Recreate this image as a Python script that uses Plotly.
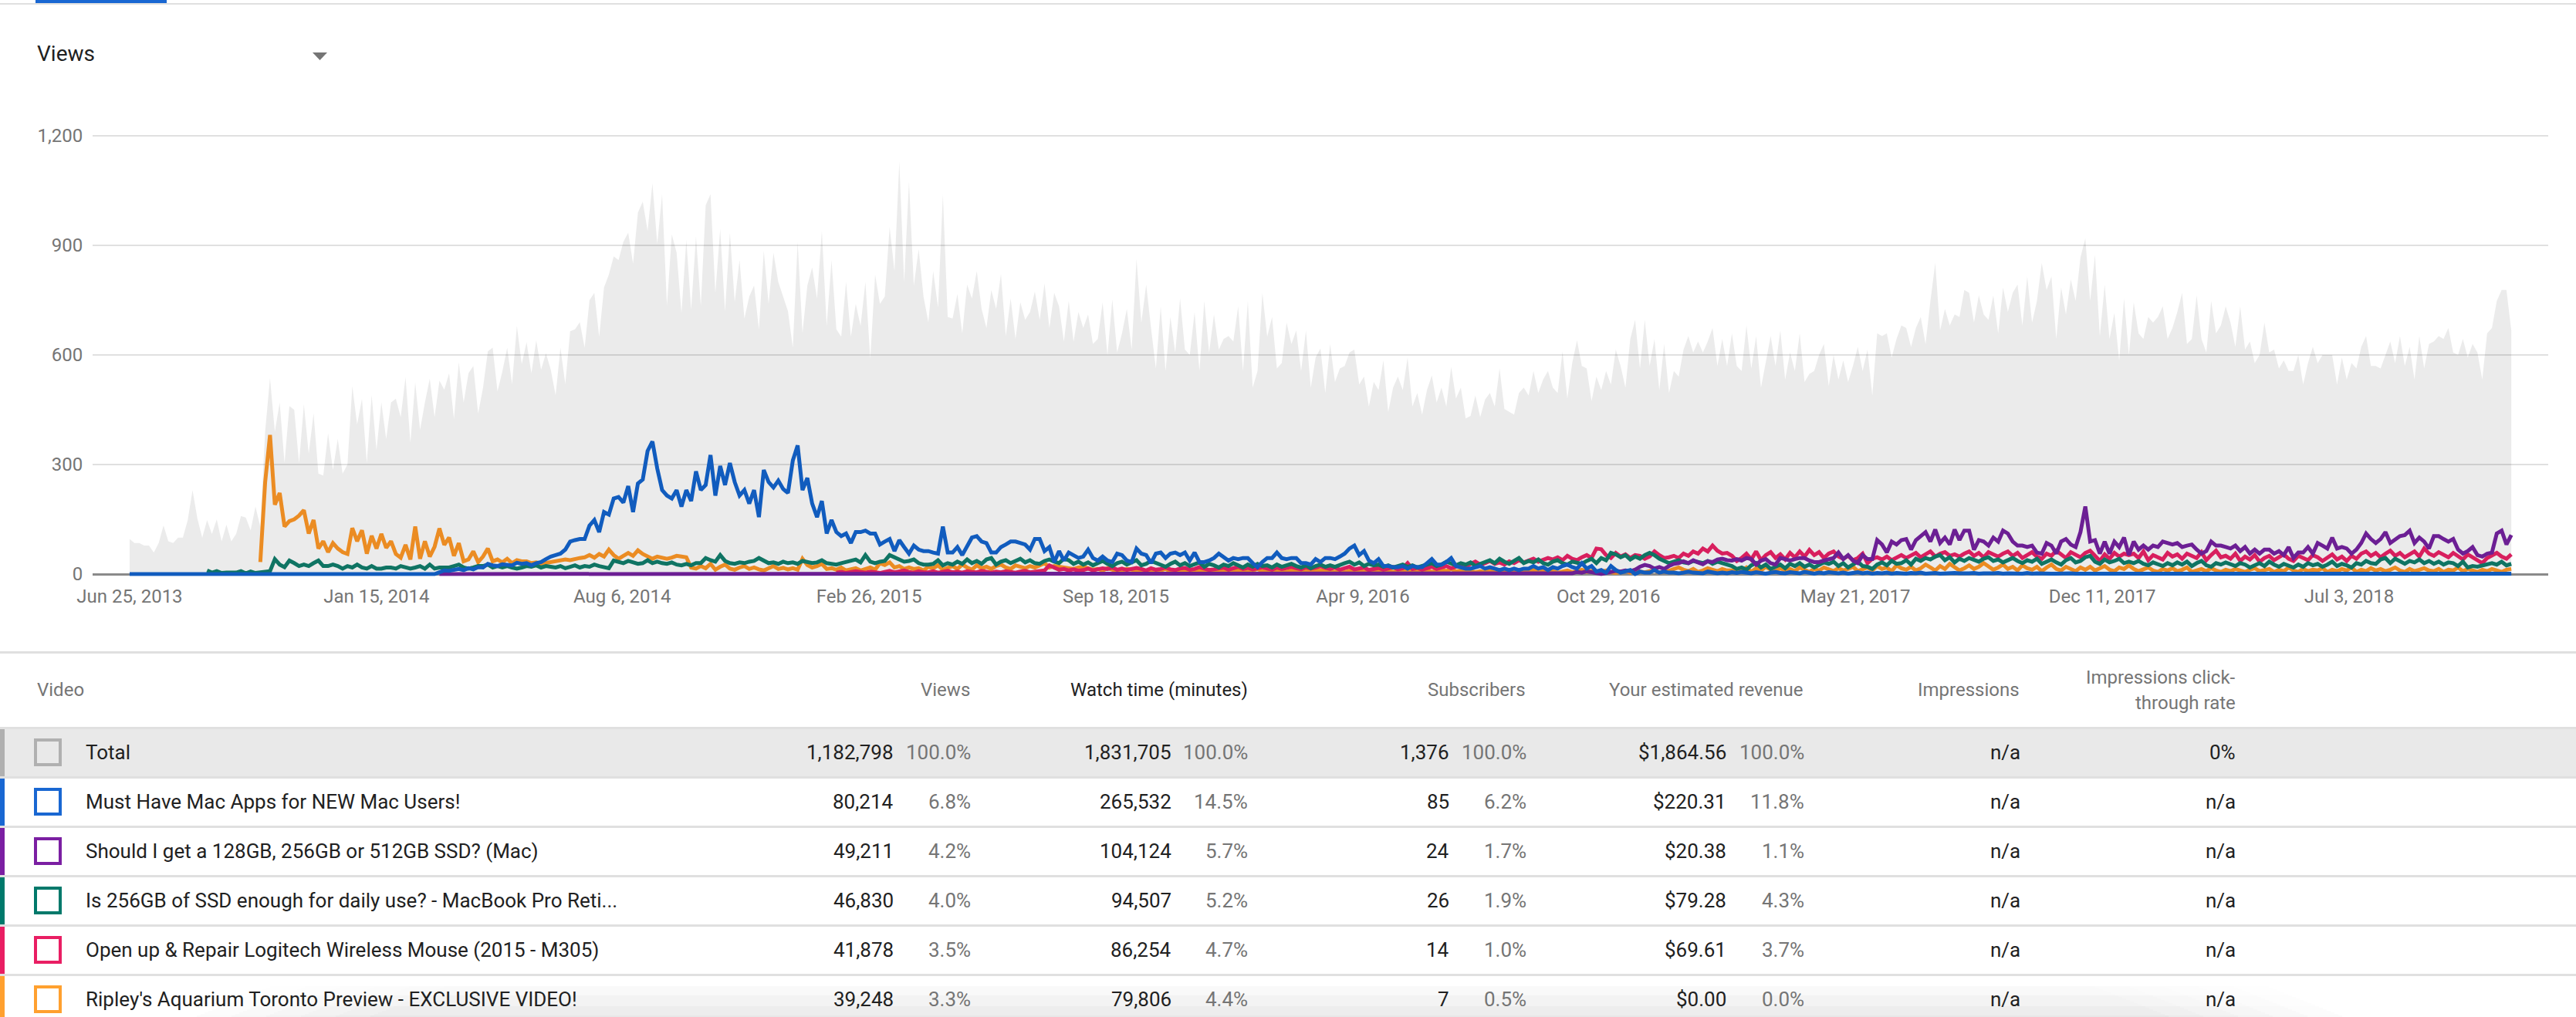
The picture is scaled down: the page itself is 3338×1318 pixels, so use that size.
import pandas as pd
import plotly.graph_objects as go

W = 3338
H = 1318

# one value every 4 days
start_date = "2013-06-25"
step = "4D"

total_views = [
    96, 85, 85, 78, 78, 59, 85, 133, 90, 85,
    100, 100, 148, 230, 152, 100, 148, 110, 150, 90,
    135, 90, 110, 159, 155, 120, 185, 130, 392, 537,
    390, 470, 304, 460, 450, 304, 465, 330, 440, 275,
    270, 385, 285, 370, 275, 300, 515, 410, 480, 304,
    490, 340, 470, 370, 470, 480, 430, 540, 360, 525,
    395, 470, 535, 430, 530, 505, 550, 425, 580, 470,
    550, 570, 440, 510, 610, 620, 500, 555, 620, 520,
    680, 575,
    635, 550, 640, 560, 605, 560, 490, 620, 520, 665,
    670, 690, 620, 750, 770, 650, 785, 820, 870, 860,
    910, 935, 850, 990, 1020, 940, 1070, 905, 1040, 735,
    930, 880, 715, 915, 725, 925, 735, 1010, 1040, 770,
    945, 720, 935, 745, 860, 700, 760, 790, 670, 885,
    740, 880, 800, 760, 720, 620, 910, 660, 790, 840,
    755, 940, 680, 860, 670, 650, 800, 650, 740, 680,
    800, 590, 820, 740, 760, 950, 830, 1130, 800, 1075,
    790, 890, 760,
    690, 830, 730, 1040, 704, 700, 767, 659, 793, 755,
    830, 726, 674, 778, 726, 822, 652, 755, 644, 744,
    696, 718, 774, 696, 796, 674, 770, 733, 637, 748,
    637, 718, 674, 711, 630, 644, 744, 600, 752, 607,
    659, 726, 615, 863, 689, 793, 674, 563, 733, 556,
    704, 607, 755, 615, 600, 718, 556, 748, 607, 711,
    615, 644, 652, 637, 733, 556, 748, 511, 556, 770,
    650, 704, 563, 578, 689, 630, 667, 556, 667, 511,
    593, 618, 496,
    630, 526, 563, 570, 607, 615, 519, 541, 459, 526,
    504, 585, 444, 511, 541, 504, 593, 459, 496, 437,
    504, 544, 470, 511, 459, 567, 481, 511, 426, 433,
    489, 430, 478, 496, 459, 563, 452, 444, 437, 496,
    511, 489, 556, 496, 533, 556, 511, 496, 610, 481,
    578, 640, 570, 563, 474, 541, 504, 556, 519, 615,
    570, 511, 644, 696, 563, 696, 570, 644, 504, 630,
    496, 556, 541, 615, 652, 607, 637, 607, 637, 674,
    570, 644, 570,
    659, 570, 556, 681, 563, 652, 510, 578, 652, 570,
    667, 533, 607, 556, 659, 526, 548, 556, 600, 630,
    515, 600, 533, 585, 526, 570, 622, 556, 615, 489,
    659, 652, 659, 593, 644, 681, 674, 622, 674, 704,
    630, 748, 852, 667, 726, 681, 711, 704, 778, 770,
    689, 763, 711, 696, 763, 659, 785, 718, 770, 793,
    681, 815, 689, 748, 852, 778, 815, 644, 785, 711,
    807, 748, 867, 919, 748, 874, 652, 793, 644, 715,
    585, 755, 600,
    744, 659, 644, 704, 689, 704, 733, 644, 674, 718,
    770, 630, 644, 763, 644, 607, 748, 659, 681, 733,
    689, 622, 733, 615, 637, 578, 600, 689, 607, 615,
    563, 585, 556, 556, 600, 519, 578, 622, 578, 600,
    600, 600, 519, 593, 533, 578, 563, 622, 652, 570,
    570, 563, 600, 637, 578, 652, 570, 622, 533, 652,
    563, 630, 637, 652, 644, 674, 607, 600, 644, 593,
    630, 607, 533, 659, 674, 748, 778, 778, 667,
]

# series start at these positions of the 4-day grid, zero before that
orange_start = 27
orange = [
    33, 252, 381, 190, 222, 130, 145, 150, 160, 175,
    111, 148, 70, 90, 60, 85, 70, 60, 55, 126,
    90, 120, 56, 105, 70, 110, 72, 90, 55, 45,
    80, 40, 130, 42, 90, 48, 75, 125, 80, 100,
    50, 85, 35, 40, 62, 33, 48, 70, 35, 40,
    32, 42, 30, 38, 35,
    35, 30, 32, 28, 30, 33, 35, 36, 40, 38,
    42, 44, 46, 52, 45, 55, 48, 67, 52, 42,
    50, 58, 50, 65, 55, 48, 42, 48, 46, 42,
    45, 50, 48, 46, 18, 15, 22, 16, 28, 12,
    20, 26, 15, 12, 18, 22, 14, 18, 13, 10,
    16, 22, 14, 17, 13, 16, 12, 42, 25, 18,
    22, 28, 14, 16, 12, 18, 10, 14, 16, 10,
    14, 18, 12, 30, 25, 32, 18, 22, 14, 18,
    14, 16, 10,
    20, 16, 24, 12, 18, 22, 14, 26, 18, 12,
    24, 16, 20, 14, 22, 26, 18, 14, 24, 20,
    16, 22, 18, 24, 30, 18, 22, 20, 18, 16,
    14, 18, 20, 16, 12, 14, 10, 16, 12, 8,
    10, 14, 12, 8, 10, 6, 12, 8, 10, 14,
    8, 6, 10, 12, 8, 6, 10, 8, 12, 6,
    10, 8, 6, 10, 12, 8, 6, 10, 14, 8,
    6, 10, 8, 12, 6, 10, 8, 6, 10, 8,
    12, 10, 8,
    8, 6, 10, 5, 9, 7, 11, 6, 8, 5,
    9, 7, 10, 6, 8, 12, 7, 9, 5, 8,
    10, 6, 9, 12, 8, 14, 7, 10, 6, 9,
    5, 8, 6, 10, 4, 7, 9, 5, 8, 6,
    10, 7, 12, 5, 9, 6, 8, 4, 7, 10,
    5, 8, 12, 6, 9, 4, 7, 10, 5, 3,
    6, 9, 4, 12, 7, 5, 8, 10, 4, 6,
    9, 14, 18, 12, 8, 14, 6, 10, 16, 12,
    8, 14, 10,
    10, 14, 8, 18, 6, 16, 10, 20, 12, 8,
    16, 10, 14, 8, 18, 12, 6, 14, 10, 18,
    12, 8, 16, 10, 14, 20, 8, 12, 18, 10,
    22, 14, 18, 8, 24, 16, 12, 20, 10, 16,
    26, 18, 10, 22, 14, 28, 18, 10, 16, 24,
    14, 20, 30, 22, 12, 18, 26, 14, 20, 10,
    24, 16, 12, 20, 8, 18, 26, 14, 10, 20,
    14, 8, 18, 12, 20, 10, 16, 22, 12, 8,
    18, 14, 24,
    14, 8, 12, 18, 10, 6, 14, 10, 16, 8,
    12, 18, 6, 10, 14, 8, 16, 10, 6, 12,
    8, 14, 10, 6, 12, 16, 8, 10, 14, 6,
    12, 8, 18, 10, 6, 14, 8, 12, 10, 16,
    6, 12, 8, 14, 10, 18, 6, 12, 8, 16,
    10, 14, 8, 12, 18, 10, 6, 14, 8, 12,
    16, 10, 8, 14, 6, 12, 10, 18, 8, 14,
    10, 6, 12, 8, 14, 10, 6, 12, 14,
]

pink_start = 146
pink = [
    4, 6, 3, 5, 8, 6, 4, 7, 5, 3,
    6, 9, 5, 7, 10, 6, 4, 8, 5,
    5, 8, 4, 6, 9, 5, 7, 4, 8, 6,
    5, 9, 6, 4, 7, 5, 8, 6, 4, 7,
    9, 5, 6, 8, 10, 24, 18, 12, 14, 10,
    13, 9, 11, 15, 10, 12, 16, 14, 18, 12,
    15, 11, 13, 17, 14, 10, 16, 12, 14, 18,
    13, 11, 15, 17, 12, 14, 19, 15, 11, 13,
    16, 18, 12, 15, 20, 14, 17, 13, 16, 19,
    15, 12, 18, 14, 17, 20, 16, 13, 19, 15,
    18, 22, 17,
    14, 18, 12, 16, 20, 13, 15, 18, 11, 14,
    17, 12, 15, 19, 13, 16, 30, 14, 17, 12,
    16, 20, 14, 18, 22, 16, 20, 24, 18, 28,
    34, 26, 30, 36, 28, 32, 26, 35, 30, 38,
    32, 36, 42, 34, 38, 44, 40, 46, 38, 50,
    42, 38, 46, 52, 44, 70, 68, 52, 44, 58,
    48, 54, 44, 52, 50, 42, 48, 62, 52, 44,
    46, 50, 44, 56, 50, 62, 56, 70, 62, 78,
    64, 56, 58,
    50, 36, 44, 56, 40, 62, 38, 52, 60, 44,
    54, 40, 58, 46, 62, 48, 66, 52, 60, 44,
    56, 62, 48, 42, 50, 38, 44, 56, 30, 42,
    46, 40, 48, 38, 46, 52, 44, 50, 58, 46,
    54, 62, 48, 56, 60, 50, 54, 48, 56, 62,
    50, 58, 46, 60, 54, 48, 56, 62, 50, 58,
    44, 52, 60, 48, 42, 56, 50, 64, 54, 44,
    60, 52, 46, 58, 64, 50, 36, 54, 42, 58,
    48, 56, 52,
    56, 44, 62, 38, 52, 46, 40, 58, 48, 54,
    42, 56, 50, 44, 60, 38, 52, 64, 46, 50,
    42, 56, 36, 48, 40, 52, 34, 44, 50, 38,
    46, 54, 42, 36, 50, 44, 38, 52, 46, 36,
    44, 54, 40, 48, 36, 50, 42, 56, 62, 50,
    58, 46, 56, 64, 50, 58, 46, 54, 62, 48,
    70, 56, 50, 60, 52, 46, 58, 50, 40, 54,
    46, 38, 30, 44, 52, 58, 48, 42, 54,
]

green_start = 16
green = [
    10, 4, 8, 3, 4, 5, 4, 8, 2, 7,
    3, 5, 6, 8, 41, 26, 19, 37, 30, 22,
    26, 22, 30, 37, 22, 22, 26, 22, 15, 22,
    18, 26, 18, 15, 22, 15, 15, 18, 18, 15,
    22, 18, 15, 18, 22, 15, 26, 15, 18, 18,
    18, 22, 26, 18, 15, 18, 22, 22, 26, 18,
    22, 18, 22, 18, 15, 18,
    22, 20, 24, 18, 22, 20, 18, 22, 16, 20,
    24, 18, 22, 20, 26, 22, 20, 16, 37, 34,
    30, 36, 33, 28, 30, 38, 30, 34, 30, 28,
    32, 26, 24, 28, 24, 30, 30, 44, 38, 34,
    52, 36, 30, 28, 32, 30, 34, 36, 44, 38,
    30, 32, 28, 34, 30, 32, 28, 36, 34, 30,
    32, 38, 30, 28, 26, 30, 34, 36, 40, 32,
    52, 34, 30, 34, 36, 52, 46, 38, 34, 36,
    40, 30, 26,
    26, 28, 38, 24, 30, 26, 34, 28, 40, 30,
    36, 28, 40, 44, 26, 34, 38, 30, 36, 42,
    32, 38, 30, 28, 36, 40, 34, 30, 42, 38,
    28, 34, 26, 32, 24, 30, 36, 28, 22, 30,
    34, 26, 32, 38, 24, 28, 36, 30, 26, 20,
    28, 34, 24, 30, 22, 26, 32, 20, 28, 24,
    18, 26, 22, 30, 24, 18, 26, 20, 28, 22,
    24, 18, 26, 20, 24, 28, 22, 18, 24, 16,
    22, 26, 20,
    24, 20, 26, 30, 34, 26, 32, 22, 28, 24,
    26, 20, 24, 18, 22, 26, 20, 24, 18, 22,
    26, 30, 22, 26, 34, 28, 24, 30, 26, 32,
    22, 28, 34, 38, 30, 42, 34, 28, 36, 44,
    30, 36, 32, 40, 30, 26, 34, 38, 30, 26,
    34, 32, 28, 36, 42, 30, 44, 38, 58, 54,
    46, 52, 40, 48, 42, 52, 58, 52, 42, 36,
    30, 34, 38, 32, 30, 36, 34, 30, 36, 28,
    34, 30, 26,
    22, 14, 18, 12, 24, 30, 18, 26, 14, 20,
    26, 16, 28, 22, 30, 20, 26, 18, 24, 32,
    28, 34, 22, 30, 18, 26, 34, 22, 20, 14,
    26, 32, 24, 36, 28, 30, 38, 26, 42, 36,
    44, 40, 48, 52, 38, 46, 32, 42, 36, 44,
    40, 34, 42, 46, 36, 40, 32, 38, 44, 36,
    30, 38, 34, 42, 28, 34, 40, 32, 26, 38,
    44, 32, 36, 46, 50, 34, 28, 40, 32, 36,
    42, 30, 34,
    30, 36, 28, 24, 32, 26, 22, 30, 24, 32,
    26, 34, 22, 30, 36, 24, 20, 30, 26, 32,
    28, 22, 30, 26, 18, 24, 30, 22, 34, 26,
    20, 28, 24, 18, 26, 20, 30, 24, 28, 20,
    26, 34, 22, 28, 24, 18, 30, 26, 36, 30,
    28, 40, 44, 30, 42, 34, 28, 36, 32, 40,
    30, 36, 28, 34, 26, 32, 30, 22, 34, 18,
    22, 20, 24, 28, 30, 26, 34, 24, 28,
]

purple_start = 298
purple = [
    2, 6, 4, 8, 5, 2, 0, 3, 6, 9,
    7, 10, 8, 12, 20, 25, 22, 15, 19, 14,
    22, 28, 30, 35, 30, 38, 32, 27, 35, 33,
    40, 42, 38,
    37, 41, 37, 44, 41, 26, 37, 41, 30, 26,
    44, 41, 37, 41, 44, 44, 37, 33, 33, 37,
    41, 44, 59, 41, 52, 37, 30, 52, 41, 41,
    93, 81, 59, 89, 81, 93, 96, 67, 93, 104,
    115, 89, 122, 85, 100, 81, 122, 93, 119, 119,
    67, 93, 89, 78, 100, 89, 119, 111, 89, 78,
    78, 74, 78, 59, 56, 85, 78, 56, 89, 96,
    81, 74, 115, 185, 89, 93, 56, 89, 56, 89,
    74, 100, 52,
    89, 67, 78, 67, 78, 74, 89, 85, 81, 85,
    74, 78, 81, 67, 56, 63, 89, 78, 78, 74,
    70, 78, 63, 74, 56, 67, 56, 67, 67, 56,
    63, 52, 74, 44, 59, 59, 74, 56, 85, 78,
    70, 100, 70, 74, 70, 56, 67, 85, 111, 96,
    85, 96, 115, 85, 96, 104, 107, 119, 85, 100,
    89, 70, 104, 104, 96, 89, 96, 67, 56, 63,
    74, 52, 48, 56, 59, 111, 119, 81, 107,
]

blue_start = 64
blue = [
    5, 10, 9, 12, 14, 11, 16, 13, 19, 18,
    28, 24, 22, 27, 25, 24, 31, 28,
    30, 24, 30, 33, 41, 48, 52, 56, 67, 89,
    93, 96, 96, 133, 148, 115, 170, 163, 207, 211,
    196, 241, 170, 248, 259, 337, 363, 289, 230, 215,
    207, 230, 185, 230, 200, 281, 230, 244, 326, 215,
    296, 244, 304, 252, 215, 230, 193, 230, 156, 285,
    252, 237, 256, 233, 222, 311, 352, 230, 263, 193,
    156, 200, 111, 148, 115, 104, 111, 85, 115, 115,
    119, 111, 111, 81, 89, 96, 63, 93, 74, 56,
    78, 67, 63,
    63, 59, 56, 130, 59, 59, 74, 52, 78, 100,
    104, 89, 85, 59, 59, 74, 81, 89, 89, 85,
    81, 67, 96, 96, 63, 74, 33, 63, 37, 59,
    52, 44, 48, 67, 44, 37, 48, 37, 33, 56,
    52, 37, 33, 70, 56, 52, 30, 56, 59, 44,
    56, 59, 52, 59, 37, 59, 33, 33, 37, 44,
    56, 48, 37, 44, 41, 44, 44, 30, 19, 33,
    44, 44, 59, 44, 41, 44, 44, 30, 30, 26,
    41, 33, 44,
    44, 41, 48, 56, 70, 78, 52, 63, 37, 30,
    41, 22, 22, 19, 19, 22, 15, 22, 19, 19,
    30, 41, 26, 26, 33, 44, 22, 19, 15, 15,
    19, 22, 15, 19, 15, 11, 15, 11, 15, 11,
    15, 15, 22, 15, 19, 11, 19, 15, 22, 26,
    19, 15, 30, 15, 22, 7, 11, 4, 22, 11,
    4, 7, 11, 0, 7, 4, 4, 11, 4, 7,
    4, 4, 2, 4, 7, 4, 4, 2, 7, 4,
    2, 4, 2,
    5, 3, 6, 4, 2, 5, 3, 1, 4, 6,
    3, 2, 5, 4, 2, 6, 3, 1, 4, 2,
    5, 3, 2, 4, 1, 3, 5, 2, 4, 1,
    3, 2, 4, 1, 3, 2, 1, 3, 2, 4,
    1, 2, 3, 1, 2, 1, 3, 2, 1, 2,
    3, 1, 2, 1, 2, 3, 1, 2, 1, 2,
    1, 3, 1, 2, 1, 2, 1, 1, 2, 1,
    2, 1, 1, 3, 1, 2, 1, 1, 2, 1,
    1, 2, 1,
    1, 1, 2, 1, 1, 1, 2, 1, 1, 1,
    1, 2, 1, 1, 1, 1, 2, 1, 1, 1,
    1, 2, 1, 1, 1, 1, 3, 1, 1, 1,
    1, 1, 2, 1, 1, 1, 1, 1, 1, 1,
    1, 1, 2, 1, 1, 1, 1, 1, 1, 1,
    1, 1, 3, 1, 1, 1, 1, 1, 1, 1,
    1, 1, 2, 1, 1, 1, 1, 1, 1, 1,
    1, 1, 1, 1, 1, 1, 1, 1, 1,
]

y_ticks = [0, 300, 600, 900, 1200]
y_labels = ["0", "300", "600", "900", "1,200"]
x_ticks = ["2013-06-25", "2014-01-15", "2014-08-06", "2015-02-26", "2015-09-18",
           "2016-04-09", "2016-10-29", "2017-05-21", "2017-12-11", "2018-07-03"]
x_labels = ["Jun 25, 2013", "Jan 15, 2014", "Aug 6, 2014", "Feb 26, 2015", "Sep 18, 2015",
            "Apr 9, 2016", "Oct 29, 2016", "May 21, 2017", "Dec 11, 2017", "Jul 3, 2018"]

# table
titles = ["Total", "Must Have Mac Apps for NEW Mac Users!", "Should I get a 128GB, 256GB or 512GB SSD? (Mac)",
          "Is 256GB of SSD enough for daily use? - MacBook Pro Reti...",
          "Open up & Repair Logitech Wireless Mouse (2015 - M305)",
          "Ripley's Aquarium Toronto Preview - EXCLUSIVE VIDEO!"]
views = ["1,182,798", "80,214", "49,211", "46,830", "41,878", "39,248"]
views_pct = ["100.0%", "6.8%", "4.2%", "4.0%", "3.5%", "3.3%"]
watch = ["1,831,705", "265,532", "104,124", "94,507", "86,254", "79,806"]
watch_pct = ["100.0%", "14.5%", "5.7%", "5.2%", "4.7%", "4.4%"]
subs = ["1,376", "85", "24", "26", "14", "7"]
subs_pct = ["100.0%", "6.2%", "1.7%", "1.9%", "1.0%", "0.5%"]
revenue = ["$1,864.56", "$220.31", "$20.38", "$79.28", "$69.61", "$0.00"]
revenue_pct = ["100.0%", "11.8%", "1.1%", "4.3%", "3.7%", "0.0%"]
impressions = ["n/a", "n/a", "n/a", "n/a", "n/a", "n/a"]
ctr = ["0%", "n/a", "n/a", "n/a", "n/a", "n/a"]
row_colors = ["#b0b0b0", "#1967d2", "#7b1fa2", "#00796b", "#e91e63", "#ffa02f"]

FONT = "Roboto"
DARK = "#212121"
GREY = "#757575"
LINE = "#e0e0e0"


def px(x):
    return x / W


def py(y):
    return 1 - y / H


def rect(x0, y0, x1, y1, color):
    return dict(type="rect", xref="paper", yref="paper", x0=px(x0), x1=px(x1), y0=py(y0), y1=py(y1),
                fillcolor=color, line_width=0, layer="below")


def label(x, y, text, size=26, color=DARK, anchor="right"):
    return dict(x=px(x), y=py(y), xref="paper", yref="paper", text=text, showarrow=False,
                xanchor=anchor, yanchor="middle", font=dict(family=FONT, size=size, color=color))


def dates(n, first=0):
    return pd.date_range(start_date, periods=first + n, freq=step)[first:]


fig = go.Figure()
fig.add_trace(go.Scatter(x=dates(len(total_views)), y=total_views, mode="lines", line=dict(width=0),
                         fill="tozeroy", fillcolor="rgba(0,0,0,0.08)"))
fig.add_trace(go.Scatter(x=dates(len(orange), orange_start), y=orange, mode="lines",
                         line=dict(color="#eb8c23", width=5)))
fig.add_trace(go.Scatter(x=dates(len(pink), pink_start), y=pink, mode="lines",
                         line=dict(color="#d81f5e", width=5)))
fig.add_trace(go.Scatter(x=dates(len(green), green_start), y=green, mode="lines",
                         line=dict(color="#0f7463", width=5)))
# purple and blue sit on the baseline before they start
fig.add_trace(go.Scatter(x=dates(len(purple) + purple_start - blue_start, blue_start),
                         y=[0] * (purple_start - blue_start) + purple, mode="lines",
                         line=dict(color="#6c1f94", width=5)))
fig.add_trace(go.Scatter(x=dates(len(blue) + blue_start), y=[0] * blue_start + blue, mode="lines",
                         line=dict(color="#115cbe", width=5)))

shapes = []
annotations = []

# tab bar and metric dropdown
shapes.append(rect(0, 4, W, 6, LINE))
shapes.append(rect(46, 0, 216, 4, "#1967d2"))
annotations.append(label(46, 69, "Views", size=28, anchor="left"))
shapes.append(dict(type="path", xref="paper", yref="paper", fillcolor=GREY, line_width=0,
                   path=f"M {px(405)},{py(68)} L {px(424)},{py(68)} L {px(414.5)},{py(78)} Z"))

# table header
shapes.append(rect(0, 844, W, 847, LINE))
annotations.append(label(46, 894, "Video", color=GREY, size=24, anchor="left"))
annotations.append(label(1259, 894, "Views", color=GREY, size=24))
annotations.append(label(1619, 894, "Watch time (minutes)", size=24))
annotations.append(label(1979, 894, "Subscribers", color=GREY, size=24))
annotations.append(label(2339, 894, "Your estimated revenue", color=GREY, size=24))
annotations.append(label(2619, 894, "Impressions", color=GREY, size=24))
annotations.append(label(2899, 878, "Impressions click-", color=GREY, size=24))
annotations.append(label(2899, 911, "through rate", color=GREY, size=24))

# table rows
row_h = 64
first_top = 943
shapes.append(rect(0, first_top + 2, W, first_top + row_h, "#e9e9e9"))

# soft shadow over the last visible row, feathered at both ends
for k in range(24):
    y0 = 1270 + k * 2
    inset = 24 - k
    for j in range(6):
        shapes.append(rect(250 + inset * 5 + j * 45, y0, 3040 - inset * 5 - j * 45, y0 + 2,
                           f"rgba(0,0,0,{0.0006 * k:.4f})"))

for i, title in enumerate(titles):
    top = first_top + i * row_h
    mid = top + 32
    shapes.append(rect(0, top - 1, W, top + 2, LINE))
    shapes.append(rect(0, top + 2, 6, min(top + row_h - 1, H), row_colors[i]))
    x0, x1, y0, y1 = px(46), px(78), py(mid - 16), py(mid + 16)
    shapes.append(dict(type="rect", xref="paper", yref="paper", x0=x0, x1=x1, y0=y0, y1=y1,
                       fillcolor="rgba(0,0,0,0)", line=dict(color=row_colors[i], width=4), layer="below"))
    annotations.append(label(109, mid, title, anchor="left"))
    annotations.append(label(1160, mid, views[i]))
    annotations.append(label(1260, mid, views_pct[i], color=GREY))
    annotations.append(label(1520, mid, watch[i]))
    annotations.append(label(1619, mid, watch_pct[i], color=GREY))
    annotations.append(label(1880, mid, subs[i]))
    annotations.append(label(1980, mid, subs_pct[i], color=GREY))
    annotations.append(label(2239, mid, revenue[i]))
    annotations.append(label(2340, mid, revenue_pct[i], color=GREY))
    annotations.append(label(2620, mid, impressions[i]))
    annotations.append(label(2899, mid, ctr[i]))

fig.update_layout(
    width=W,
    height=H,
    margin=dict(l=0, r=0, t=0, b=0, autoexpand=False),
    paper_bgcolor="white",
    plot_bgcolor="white",
    showlegend=False,
    hovermode=False,
    shapes=shapes,
    annotations=annotations,
    font=dict(family=FONT, color=GREY, size=24),
    xaxis=dict(
        type="date",
        automargin=False,
        domain=[px(120), px(3302)],
        range=["2013-05-25 10:00", "2018-12-14 12:00"],
        tickmode="array",
        tickvals=x_ticks,
        ticktext=x_labels,
        showgrid=False,
        zeroline=False,
        ticks="outside",
        ticklen=4,
        tickcolor="rgba(0,0,0,0)",
        tickfont=dict(family=FONT, size=24, color=GREY),
    ),
    yaxis=dict(
        automargin=False,
        domain=[py(746.84), py(171.27)],
        range=[-6, 1210],
        tickmode="array",
        tickvals=y_ticks,
        ticktext=y_labels,
        showgrid=True,
        gridcolor=LINE,
        gridwidth=2,
        zeroline=True,
        zerolinecolor="#8a8a8a",
        zerolinewidth=3,
        ticks="outside",
        ticklen=7,
        tickcolor="rgba(0,0,0,0)",
        tickfont=dict(family=FONT, size=24, color=GREY),
    ),
)

fig.write_html("out.html", config={"displayModeBar": False},
               post_script="document.body.style.margin='0';")
